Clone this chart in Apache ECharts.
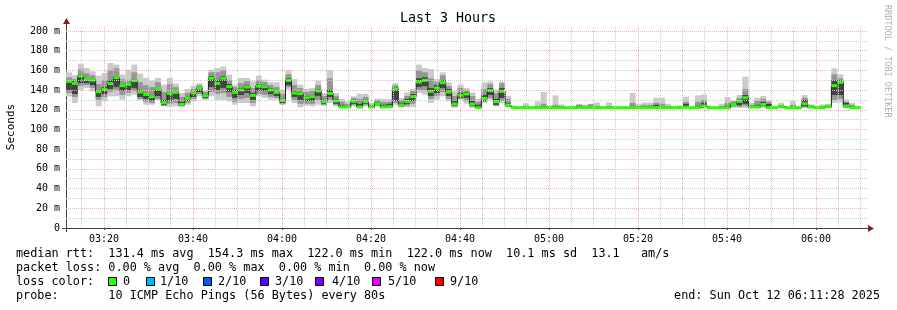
<!DOCTYPE html>
<html><head><meta charset="utf-8">
<script src="https://cdn.jsdelivr.net/npm/echarts@6/dist/echarts.min.js"></script>
<style>html,body{margin:0;padding:0;background:#fff}#c{width:897px;height:310px}</style>
</head><body><div id="c"></div>
<script>
// ---- data ----
const startTime = '03:11:28';
const endTime = '06:11:28';
const stepSeconds = 80;
const xLabels = ['03:20','03:40','04:00','04:20','04:40','05:00','05:20','05:40','06:00'];
const yLabels = [0,20,40,60,80,100,120,140,160,180,200];
const yMinor = [10,30,50,70,90,110,130,150,170,190];

const median = [148.8,146.8,154.3,150.9,150.2,138.3,140.7,146.5,152.6,144.5,
145.8,149.5,138.0,135.6,133.3,141.1,127.2,136.6,137.6,125.4,
131.5,137.0,141.7,134.3,151.9,146.8,151.9,143.4,137.6,140.1,
143.1,134.6,144.1,143.4,140.1,137.6,129.5,149.9,137.0,136.3,
132.2,133.3,139.1,128.2,136.6,128.9,122.8,122.8,128.5,122.8,
128.2,122.8,126.1,122.8,123.1,141.1,124.8,128.5,133.3,148.2,
149.9,138.7,142.1,147.5,138.0,125.8,134.6,136.0,125.8,122.1,
131.5,139.4,128.2,138.7,124.8,122.1,122.1,122.1,122.1,122.1,
122.1,122.1,122.1,122.1,122.1,122.1,122.3,122.1,122.3,122.1,
122.1,122.1,122.1,122.1,122.1,122.3,122.1,122.1,122.1,122.3,
122.1,122.1,122.1,122.1,122.5,122.1,122.1,123.8,122.0,122.0,
122.0,122.0,125.4,128.5,132.2,122.8,122.8,125.4,122.1,122.1,
123.4,122.0,122.1,122.1,126.1,122.8,122.1,122.1,123.4,144.5,
147.8,123.8,122.1,122.1];

// outer smoke (lowest / highest ping)
const pingLow = [133.6,126.8,140,142,138.7,123.4,128.5,133.6,133.6,130.2,
133.6,135.3,130,125.1,125.1,130,123.4,123,123.4,123,
125,128.5,133.6,130,133.6,130,130,128.5,125,126.8,
126.8,123.4,133.6,131.9,130.2,130.2,124.8,140.4,126.8,122.5,
124.1,123.4,125.1,124,126.8,123.4,122,122,123.4,122.8,
123.4,122,123.4,122,122,125.1,122.8,122.8,122.8,137,
135.3,126.8,130.2,133.6,128.5,122,130.2,126.1,122,122,
126.8,130.2,123.4,126.8,122.8,122,122,122,122,122,
122,122,122,122,122,122,122,122,122,122,
122,122,122,122,122,122,122,122,122,122,
122,122,122,122,122,122,122,122,122,122,
122,122,122,122,122,122,122,122,122,122,
122,122,122,122,122,122,122,122,122,127,
127.2,122,122,122];
const pingHigh = [158,155,166.8,162.4,159,154.6,157.4,167.5,165.8,155.6,
160.7,165.8,156.7,152.3,149.5,152.3,145.5,152.3,146.5,137,
141,144.5,147,139.7,160.7,162.4,164,155.6,145.5,152.3,
152.3,148.8,154.6,150.5,147.8,147.8,140.4,160,151.2,145.5,
141,142,149.5,137,160,137,131,128.5,133.6,136.3,
136.3,126.8,131.2,131.2,131,147.2,132,137.6,141,165.8,
162.4,161.4,151.2,158,147.8,138.7,145.5,142,137.6,131,
147.8,148.8,140.4,148.8,134.3,124.5,123,126.8,122.8,128.5,
138,124.4,134.6,125.4,122.3,123.8,126.1,125.4,126.1,127.5,
122.3,127.5,122.3,122.3,122.3,137,126.1,127.5,127.5,132.2,
132.2,126.1,122.3,124.4,133.3,122.5,134.6,135.6,122.3,122.3,
126.1,133,129.5,135,153.6,127.2,132.2,134,129.5,122.3,
127.2,122.3,128.9,122.3,135,125.4,122.3,125.4,126.1,162,
156,130.5,127.2,122.3];
// middle smoke
const midLow = [137,133,144,145,142,130,133,138,140,135,
137,139,131,128,127,131,124,126,127,123.5,
127,131,136,131,138,136,137,133,128,131,
132,127,136,135,133,132,126,143,130,126,
126,126,130,125,130,125,122.2,122.2,125,122.8,
125,122.2,124,122.2,122.2,127,123,124,126,140,
140,131,134,138,131,123,131,129,123,122,
128,132,124,129,123,122,122,122,122,122,
122,122,122,122,122,122,122,122,122,122,
122,122,122,122,122,122,122,122,122,122,
122,122,122,122,122,122,122,122.5,122,122,
122,122,123,123,124,122,122,123,122,122,
122,122,122,122,122.5,122,122,122,122,130,
131,122,122,122];
const midHigh = [153,151,161,157,155,146,150,160,162,151,
150,158,148,145,143,148,138,146,143,133,
137,141,145,138,158,158,160,150,143,147,
149,142,150,148,145,143,136,156,145,142,
138,139,145,134,152,134,128,126,132,131,
133,125,130,128,128,145,130,134,139,160,
158,152,148,155,144,134,142,140,134,128,
141,146,137,147,131,123,122.5,124,122.5,124,
126,123,125,124,122.2,123,125,124,125.5,124,
122.2,124,122.2,122.2,122.2,127,124,125,125,127,
126,124,122.2,123,128,122.2,128,130,122.2,122.2,
124,127,128.5,132,141,125,129,131,128,122.2,
125,122.2,125,122.2,132,124.5,122.2,124,125,156,
152,128,125,122.2];
// inner (darkest) smoke
const coreLow = [140,136,147,147,145,133,136,141,143,139,
140,142,133,131,129,134,125,129,131,124,
129,133,138,132,143,140,142,138,132,135,
137,130,139,139,136,134,127,145,133,130,
129,129,134,126,133,126,122.4,122.4,126,122.8,
126,122.4,125,122.4,122.4,129,123.5,126,129,143,
144,134,137,142,134,124,132,132,124,122,
129,135,125,132,123.5,122,122,122,122,122,
122,122,122,122,122,122,122,122,122,122,
122,122,122,122,122,122,122,122,122,122,
122,122,122,122,122,122,122,123,122,122,
122,122,124,124.5,126,122,122,124,122,122,
122,122,122,122,123.5,122,122,122,122,135,
135,122.5,122,122];
const coreHigh = [150,148,156,152,151,140,143,150,154,146,
147,151,140,137,135,142,130,138,139,128,
133,138,143,136,154,150,154,146,140,142,
145,137,146,145,142,139,131,152,139,138,
134,135,141,130,140,131,125,124,130,126,
130,124,128,125,126,143,127,131,136,152,
153,142,145,150,141,129,137,138,129,125,
135,142,131,142,127,122.5,122.3,122.8,122.3,123,
123.5,122.5,123,123,122.2,122.5,124,123,124,123,
122.2,123,122.2,122.2,122.2,124,123,123,123,125,
123,123,122.2,122.5,126,122.2,124,127,122.2,122.2,
123,124,127,130,135,124,125,128,126,122.2,
124.5,122.2,123,122.2,130,124,122.2,123,124,150,
150,127,123,122.2];

const statsLine = 'median rtt:  131.4 ms avg  154.3 ms max  122.0 ms min  122.0 ms now  10.1 ms sd  13.1   am/s';
const lossLine = 'packet loss: 0.00 % avg  0.00 % max  0.00 % min  0.00 % now';
const lossNames = ['0','1/10','2/10','3/10','4/10','5/10','9/10'];
const lossColors = ['#26ff00','#00b8ff','#0059ff','#5e00ff','#7e00ff','#dd00ff','#ff0000'];
const probeLine = 'probe:       10 ICMP Echo Pings (56 Bytes) every 80s';
const endLine = 'end: Sun Oct 12 06:11:28 2025';

// ---- helpers ----
function toSec(s){const p=s.split(':').map(Number);return p[0]*3600+p[1]*60+(p[2]||0);}
const T0 = toSec(startTime), T1 = toSec(endTime);
function fmt(v){const h=Math.floor(v/3600), m=Math.floor((v%3600)/60);return String(h).padStart(2,'0')+':'+String(m).padStart(2,'0');}
const xLabelSecs = xLabels.map(toSec);
const minorSecs = [];
for (let s = Math.ceil(T0/300)*300; s < T1; s += 300) if (!xLabelSecs.includes(s)) minorSecs.push(s);

const FONT = 'DejaVu Sans Mono';
const RED = '#f2b0b0', GRAY = '#cccccc';
const DASH = [1,1];

const gridLines = [];
minorSecs.forEach(s=>gridLines.push({xAxis:s, lineStyle:{color:GRAY,type:DASH,width:1}}));
xLabelSecs.forEach(s=>gridLines.push({xAxis:s, lineStyle:{color:RED,type:DASH,width:1}}));
yMinor.forEach(v=>gridLines.push({yAxis:v, lineStyle:{color:GRAY,type:DASH,width:1}}));
yLabels.filter(v=>v>0).forEach(v=>gridLines.push({yAxis:v, lineStyle:{color:RED,type:DASH,width:1}}));

const items = median.map((m,i)=>[T0+i*stepSeconds, m, i]);
const stepLine = median.map((m,i)=>[T0+i*stepSeconds, m]);
stepLine.push([T0+median.length*stepSeconds, median[median.length-1]]);

const layers = [[pingLow,pingHigh,'#cacaca'],[midLow,midHigh,'#969696'],[coreLow,coreHigh,'#444444']];

function smoke(params, api){
  const i = api.value(2);
  const t0 = api.value(0), t1 = t0 + stepSeconds;
  const ch = [];
  layers.forEach(([lo,hi,col])=>{
    const a = api.coord([t0, hi[i]]), b = api.coord([t1, lo[i]]);
    if (b[1]-a[1] > 0.3) ch.push({type:'rect', shape:{x:a[0], y:a[1], width:b[0]-a[0], height:b[1]-a[1]}, style:{fill:col}});
  });
  return {type:'group', children:ch};
}
function greenBar(params, api){
  const t0 = api.value(0), t1 = t0 + stepSeconds;
  const a = api.coord([t0, api.value(1)]), b = api.coord([t1, api.value(1)]);
  return {type:'rect', shape:{x:a[0], y:a[1]-1.5, width:b[0]-a[0], height:3}, style:{fill:lossColors[0]}};
}

const chart = echarts.init(document.getElementById('c'), null, {renderer:'canvas'});
const graphics = [
  {type:'text', x:448, y:19, style:{text:'Last 3 Hours', font:'13.3px "'+FONT+'"', fill:'#000', align:'center', verticalAlign:'middle'}},
  {type:'text', x:887, y:5, rotation:-Math.PI/2, style:{text:'RRDTOOL / TOBI OETIKER', font:'8.5px "'+FONT+'"', fill:'#b0b0b0', align:'left', verticalAlign:'middle'}},
  {type:'text', x:11, y:127, rotation:Math.PI/2, style:{text:'Seconds', font:'11px "'+FONT+'"', fill:'#000', align:'center', verticalAlign:'middle'}},
  {type:'text', x:16, y:254, style:{text:statsLine, font:'11.8px "'+FONT+'"', fill:'#000', verticalAlign:'middle'}},
  {type:'text', x:16, y:268, style:{text:lossLine, font:'11.8px "'+FONT+'"', fill:'#000', verticalAlign:'middle'}},
  {type:'text', x:16, y:282, style:{text:'loss color:', font:'11.8px "'+FONT+'"', fill:'#000', verticalAlign:'middle'}},
  {type:'text', x:16, y:296, style:{text:probeLine, font:'11.8px "'+FONT+'"', fill:'#000', verticalAlign:'middle'}},
  {type:'text', x:880, y:296, style:{text:endLine, font:'11.8px "'+FONT+'"', fill:'#000', align:'right', verticalAlign:'middle'}},
  // axis extensions and arrows
  {type:'line', shape:{x1:62, y1:228.5, x2:868, y2:228.5}, style:{stroke:'#404040', lineWidth:1}},
  {type:'line', shape:{x1:66.5, y1:232, x2:66.5, y2:24}, style:{stroke:'#404040', lineWidth:1}},
  {type:'polygon', shape:{points:[[868,225],[874,228.5],[868,232]]}, style:{fill:'#7f1f1f'}},
  {type:'polygon', shape:{points:[[63,24],[66.5,18],[70,24]]}, style:{fill:'#7f1f1f'}}
];
const boxX = [108,146,203,260,315,372,435];
const lblX = [123,160,218,275,332,388,450];
lossNames.forEach((n,k)=>{
  graphics.push({type:'rect', shape:{x:boxX[k]+0.5, y:277.5, width:8, height:8}, style:{fill:lossColors[k], stroke:'#000', lineWidth:1}});
  graphics.push({type:'text', x:lblX[k], y:282, style:{text:n, font:'11.8px "'+FONT+'"', fill:'#000', verticalAlign:'middle'}});
});

chart.setOption({
  animation:false,
  backgroundColor:'#ffffff',
  grid:{left:66, right:30, top:26, bottom:82, containLabel:false, outerBoundsMode:'none'},
  xAxis:{type:'value', min:T0, max:T1,
    axisLine:{show:false},
    axisTick:{show:true, customValues:xLabelSecs, length:2, lineStyle:{color:'#404040'}},
    axisLabel:{customValues:xLabelSecs, formatter:v=>fmt(v), fontFamily:FONT, fontSize:10, color:'#000', margin:6},
    splitLine:{show:false}},
  yAxis:{type:'value', min:0, max:205, interval:20,
    axisLine:{show:false}, axisTick:{show:false}, splitLine:{show:false},
    axisLabel:{formatter:v=>(v===0?'0':(yLabels.includes(v)?v+' m':'')), fontFamily:FONT, fontSize:10, color:'#000', margin:6, showMaxLabel:false}},
  graphic:graphics,
  series:[
    {type:'custom', name:'smoke', data:items, encode:{x:0,y:1}, renderItem:smoke, z:2, silent:true,
     markLine:{silent:true, symbol:['none','none'], label:{show:false}, data:gridLines, animation:false}},
    {type:'line', name:'median', data:stepLine, step:'end', showSymbol:false, symbol:'none', lineStyle:{color:'#202020', width:1}, z:3, silent:true},
    {type:'custom', name:'loss', data:items, encode:{x:0,y:1}, renderItem:greenBar, z:4, silent:true}
  ]
});
</script></body></html>
